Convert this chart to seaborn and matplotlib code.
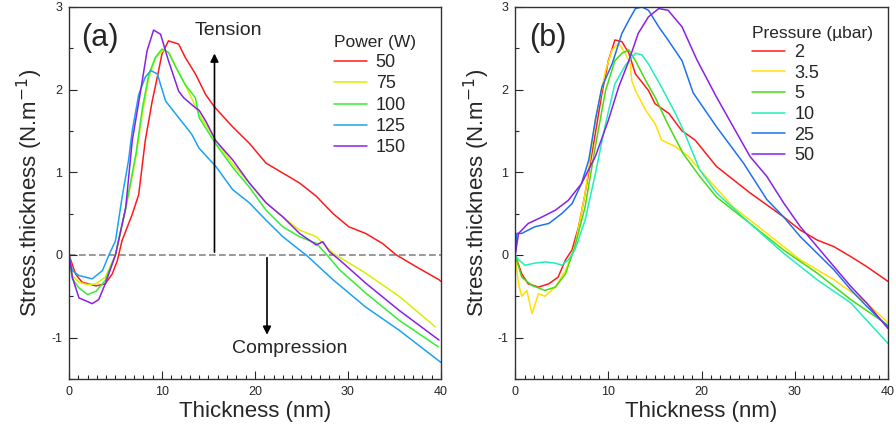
import numpy as np
import pandas as pd
import matplotlib
matplotlib.use("Agg")
import matplotlib.pyplot as plt
import seaborn as sns
from matplotlib.ticker import MultipleLocator

sns.set_theme(style="ticks")
plt.rcParams['font.family'] = ['Liberation Sans', 'DejaVu Sans']
plt.rcParams['axes.unicode_minus'] = False

# ---------------- Panel (a): Power (W) ----------------
power_labels = ["50", "75", "100", "125", "150"]
a50_x = [0, 0.7, 1.4, 2.9, 3.9, 4.65, 5.2, 5.7, 6.8, 7.5, 8.2, 8.95, 9.5, 10, 10.7, 11.8, 12.5, 13.6, 14.7, 15.65, 17.6, 19.4, 21.2, 23, 24.8, 26.6, 28.4, 30.1, 31.9, 33.7, 35.2, 37.3, 39.8, 40]
a50_y = [0, -0.23, -0.33, -0.375, -0.35, -0.23, -0.07, 0.17, 0.49, 0.73, 1.38, 1.86, 2.15, 2.43, 2.59, 2.55, 2.39, 2.19, 1.94, 1.79, 1.55, 1.35, 1.11, 0.99, 0.87, 0.71, 0.5, 0.34, 0.26, 0.14, 0, -0.14, -0.3, -0.32]
a75_x = [0, 0.36, 1.07, 2.0, 2.9, 3.9, 5.0, 6.1, 7.2, 7.9, 8.6, 9.3, 10.2, 10.8, 11.5, 12.5, 14, 15.8, 17.6, 19.4, 21.2, 23, 24.8, 26.6, 28.4, 31.9, 35.5, 39.4]
a75_y = [0, -0.25, -0.33, -0.36, -0.35, -0.27, 0, 0.55, 1.18, 1.72, 2.15, 2.38, 2.48, 2.44, 2.27, 2.06, 1.7, 1.38, 1.1, 0.87, 0.63, 0.46, 0.3, 0.22, 0.02, -0.22, -0.5, -0.87]
a100_x = [0, 0.36, 1.07, 2.0, 2.9, 3.9, 5.0, 6.1, 7.2, 7.9, 8.6, 9.3, 10, 10.7, 11.5, 12.5, 13.6, 14.0, 15.8, 17.6, 19.4, 21.2, 23, 24.8, 26.6, 27.6, 29.1, 31.9, 35.5, 39.7]
a100_y = [0, -0.29, -0.4, -0.48, -0.44, -0.31, 0, 0.57, 1.22, 1.78, 2.19, 2.39, 2.49, 2.45, 2.27, 2.06, 1.9, 1.66, 1.34, 1.06, 0.82, 0.54, 0.34, 0.22, 0.14, 0.02, -0.18, -0.46, -0.79, -1.11]
a125_x = [0, 0.36, 1.07, 2.5, 3.6, 4.3, 5.0, 5.7, 6.4, 6.8, 7.5, 8.2, 8.8, 9.5, 10.4, 11.8, 13.2, 14.0, 15.8, 17.6, 19.4, 21.2, 23, 24.8, 25.5, 28.4, 31.9, 35.5, 40]
a125_y = [0, -0.19, -0.25, -0.29, -0.19, 0, 0.17, 0.69, 1.14, 1.5, 1.94, 2.15, 2.23, 2.19, 1.86, 1.66, 1.46, 1.29, 1.07, 0.79, 0.63, 0.42, 0.22, 0.06, 0, -0.3, -0.63, -0.91, -1.3]
a150_x = [0, 0.36, 1.07, 2.5, 3.2, 3.9, 5.0, 6.1, 6.8, 7.7, 8.4, 9.1, 9.85, 10.7, 11.8, 12.35, 13.6, 14.0, 14.75, 15.8, 17.6, 19.4, 21.2, 23, 24.8, 26.6, 27.3, 28, 29.1, 31.9, 35.5, 39.8]
a150_y = [0, -0.27, -0.52, -0.59, -0.54, -0.35, 0, 0.57, 1.38, 1.98, 2.47, 2.72, 2.67, 2.35, 1.98, 1.9, 1.78, 1.75, 1.61, 1.38, 1.15, 0.87, 0.63, 0.46, 0.26, 0.12, 0.16, 0.04, -0.06, -0.34, -0.67, -1.03]

# ---------------- Panel (b): Pressure (µbar) ----------------
pressure_labels = ["2", "3.5", "5", "10", "25", "50"]
b2_x = [0, 0.7, 1.4, 2.5, 3.6, 4.6, 5.4, 6.1, 6.8, 7.5, 8.6, 9.3, 10, 10.7, 11.45, 12.2, 12.9, 14.3, 15, 16.5, 17.9, 19.3, 21.6, 25.2, 28.8, 30.6, 32.4, 34.2, 36, 37.7, 40]
b2_y = [0, -0.23, -0.35, -0.39, -0.35, -0.27, -0.06, 0.06, 0.34, 0.74, 1.47, 1.95, 2.35, 2.6, 2.58, 2.44, 2.19, 1.99, 1.83, 1.71, 1.5, 1.39, 1.07, 0.75, 0.46, 0.3, 0.18, 0.1, -0.02, -0.14, -0.32]
b35_x = [0, 0.36, 0.7, 1.25, 1.8, 2.5, 3.2, 4.3, 5.4, 6.4, 7.5, 8.6, 9.7, 10.4, 11.1, 11.8, 12.35, 12.5, 12.9, 14, 15, 15.7, 17.2, 18.6, 19.8, 23.4, 27, 30.6, 34.2, 37.7, 40]
b35_y = [0, -0.35, -0.5, -0.43, -0.71, -0.47, -0.5, -0.39, -0.19, 0.1, 0.74, 1.63, 2.23, 2.48, 2.56, 2.44, 2.31, 2.11, 1.99, 1.75, 1.59, 1.39, 1.31, 1.19, 1.03, 0.58, 0.26, -0.06, -0.3, -0.58, -0.82]
b5_x = [0, 0.7, 1.8, 3.2, 4.3, 5.4, 6.4, 7.5, 8.6, 9.7, 10.7, 11.45, 12.2, 12.9, 14, 15, 16.3, 18, 19.8, 21.6, 25.2, 28.8, 32.4, 36, 40]
b5_y = [0, -0.27, -0.37, -0.43, -0.39, -0.23, 0.1, 0.58, 1.31, 1.99, 2.35, 2.44, 2.48, 2.35, 2.11, 1.91, 1.6, 1.23, 0.95, 0.7, 0.38, 0.06, -0.22, -0.54, -0.85]
b10_x = [0, 0.36, 1.07, 2.1, 3.2, 4.3, 5.0, 5.7, 6.4, 7.5, 8.6, 9.7, 10.7, 11.8, 12.9, 13.6, 14.3, 15.7, 17.2, 18.2, 19.8, 21.6, 25.2, 28.8, 30.6, 32.4, 36, 40]
b10_y = [0, -0.06, -0.125, -0.1, -0.085, -0.1, -0.125, -0.06, 0.06, 0.42, 0.98, 1.59, 2.07, 2.29, 2.44, 2.42, 2.31, 2.03, 1.71, 1.47, 1.03, 0.75, 0.38, 0.02, -0.14, -0.3, -0.58, -1.07]
b25_x = [0, 0.18, 0.7, 2.1, 3.6, 5.0, 6.1, 7.1, 7.9, 8.6, 9.3, 10.4, 11.45, 12.2, 12.9, 13.6, 14.3, 15.4, 16.4, 17.9, 19.1, 21.6, 24.5, 27, 28.8, 30.6, 32.4, 34.2, 36, 37.7, 40]
b25_y = [0, 0.26, 0.26, 0.34, 0.38, 0.5, 0.62, 0.86, 1.15, 1.63, 2.03, 2.31, 2.68, 2.84, 2.98, 3.0, 2.96, 2.76, 2.6, 2.35, 1.96, 1.55, 1.11, 0.67, 0.46, 0.22, 0.02, -0.18, -0.42, -0.62, -0.87]
b50_x = [0, 0.36, 1.4, 2.9, 4.3, 5.7, 7.1, 8.6, 10, 11.1, 12.2, 13.2, 14.3, 15.4, 16.4, 17.9, 19.5, 21.6, 23.4, 25.2, 27, 28.8, 30.6, 32.4, 34.2, 36, 37.7, 40]
b50_y = [0, 0.26, 0.38, 0.46, 0.54, 0.66, 0.86, 1.19, 1.63, 2.03, 2.35, 2.68, 2.88, 2.98, 2.96, 2.76, 2.36, 1.91, 1.55, 1.19, 0.95, 0.63, 0.34, 0.1, -0.14, -0.38, -0.58, -0.89]

power_x = [a50_x, a75_x, a100_x, a125_x, a150_x]
power_y = [a50_y, a75_y, a100_y, a125_y, a150_y]
pressure_x = [b2_x, b35_x, b5_x, b10_x, b25_x, b50_x]
pressure_y = [b2_y, b35_y, b5_y, b10_y, b25_y, b50_y]

power_colors = ["#ff1a1a", "#d8f000", "#33ee33", "#1aa3f0", "#8a20e8"]
pressure_colors = ["#ff1a1a", "#ffe000", "#44dd11", "#22eebb", "#1f70f0", "#8a20e8"]


def make_df(labels, xs, ys, key):
    rows = []
    for lab, xx, yy in zip(labels, xs, ys):
        for xv, yv in zip(xx, yy):
            rows.append({"x": xv, "y": yv, key: lab})
    return pd.DataFrame(rows)


df_a = make_df(power_labels, power_x, power_y, "Power (W)")
df_b = make_df(pressure_labels, pressure_x, pressure_y, "Pressure (µbar)")

fig = plt.figure(figsize=(8.96, 4.33), dpi=100)
ax_a = fig.add_axes([0.077, 0.125, 0.415, 0.859])
ax_b = fig.add_axes([0.575, 0.125, 0.416, 0.859])

sns.lineplot(data=df_a, x="x", y="y", hue="Power (W)", palette=power_colors,
             hue_order=power_labels, sort=False, estimator=None, lw=1.1, ax=ax_a)
sns.lineplot(data=df_b, x="x", y="y", hue="Pressure (µbar)", palette=pressure_colors,
             hue_order=pressure_labels, sort=False, estimator=None, lw=1.1, ax=ax_b)

for ax in (ax_a, ax_b):
    ax.set_xlim(0, 40)
    ax.set_ylim(-1.5, 3)
    ax.set_xticks([0, 10, 20, 30, 40])
    ax.set_yticks([-1, 0, 1, 2, 3])
    ax.xaxis.set_minor_locator(MultipleLocator(1))
    ax.yaxis.set_minor_locator(MultipleLocator(0.5))
    ax.tick_params(which='major', direction='in', length=6, width=0.8, labelsize=9, pad=5)
    ax.tick_params(which='minor', direction='in', length=3, width=0.8)
    for s in ax.spines.values():
        s.set_color("#333333")
        s.set_linewidth(1.0)
    ax.set_xlabel("Thickness (nm)", fontsize=16, labelpad=2)
    ax.set_ylabel("Stress.thickness (N.m$^{-1}$)", fontsize=16, labelpad=4)

# Panel (a) extras
ax_a.axhline(0, color="#888888", lw=1.2, ls=(0, (4, 2)), zorder=0.5)
ax_a.text(3.3, 2.62, "(a)", fontsize=22, ha="center", va="center")
ax_a.text(17.1, 2.72, "Tension", fontsize=14, ha="center", va="center")
ax_a.text(23.7, -1.13, "Compression", fontsize=14, ha="center", va="center")
ax_a.annotate("", xy=(15.65, 2.47), xytext=(15.65, 0),
              arrowprops=dict(arrowstyle="-|>", color="black", lw=1.2, mutation_scale=12))
ax_a.annotate("", xy=(21.3, -1.0), xytext=(21.3, 0),
              arrowprops=dict(arrowstyle="-|>", color="black", lw=1.2, mutation_scale=12))
leg_a = ax_a.legend(title="Power (W)", frameon=False, fontsize=13, title_fontsize=12.5,
                    loc="upper left", bbox_to_anchor=(0.713, 0.925), handlelength=1.8,
                    labelspacing=0.24, handletextpad=0.5, borderaxespad=0.0, borderpad=0.0)
leg_a._legend_box.align = "left"

# Panel (b) extras
ax_b.text(3.5, 2.62, "(b)", fontsize=22, ha="center", va="center")
leg_b = ax_b.legend(title="Pressure (µbar)", frameon=False, fontsize=13, title_fontsize=12.5,
                    loc="upper left", bbox_to_anchor=(0.635, 0.95), handlelength=1.85,
                    labelspacing=0.2, handletextpad=0.5, borderaxespad=0.0, borderpad=0.0)
leg_b._legend_box.align = "left"

fig.savefig("out.png", dpi=100)
